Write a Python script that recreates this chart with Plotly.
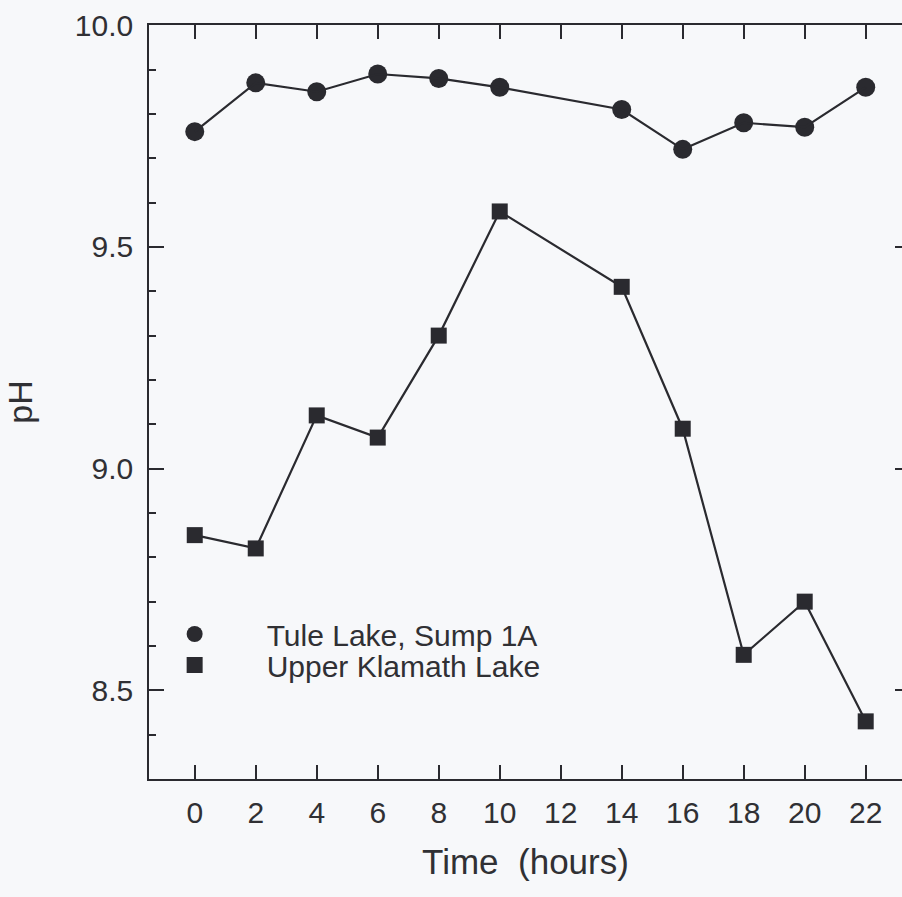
import plotly.graph_objects as go

# Sampling times (hours)
hours = [0, 2, 4, 6, 8, 10, 14, 16, 18, 20, 22]

# pH readings at each site
tule_ph = [9.76, 9.87, 9.85, 9.89, 9.88, 9.86, 9.81, 9.72, 9.78, 9.77, 9.86]
klamath_ph = [8.85, 8.82, 9.12, 9.07, 9.30, 9.58, 9.41, 9.09, 8.58, 8.70, 8.43]

series_names = ["Tule Lake, Sump 1A", "Upper Klamath Lake"]

x_ticks = list(range(0, 23, 2))
y_ticks = [8.5, 9.0, 9.5, 10.0]

INK = "#2a2a2f"
TEXT = "#303034"
PAPER = "#f7f8fa"
FONT = "Liberation Sans, Arial, sans-serif"

fig = go.Figure()

# connecting lines (kept out of the legend)
fig.add_trace(go.Scatter(x=hours, y=tule_ph, mode="lines", showlegend=False,
                         line=dict(color=INK, width=2.2), yaxis="y2", hoverinfo="skip"))
fig.add_trace(go.Scatter(x=hours, y=klamath_ph, mode="lines", showlegend=False,
                         line=dict(color=INK, width=2.2), hoverinfo="skip"))

# symbols, one legend box per series
fig.add_trace(go.Scatter(x=hours, y=tule_ph, mode="markers", name=series_names[0],
                         marker=dict(symbol="circle", size=19, color=INK), legend="legend"))
fig.add_trace(go.Scatter(x=hours, y=klamath_ph, mode="markers", name=series_names[1],
                         marker=dict(symbol="square", size=16, color=INK), legend="legend2"))

y_range = [8.3, 10.0005]

legend_style = dict(
    xanchor="left", yanchor="middle", bgcolor="rgba(0,0,0,0)",
    font=dict(size=30, color=TEXT, family=FONT), itemsizing="trace", itemwidth=134,
)

fig.update_layout(
    width=902, height=897,
    margin=dict(l=149, r=0, t=25, b=118),
    paper_bgcolor=PAPER, plot_bgcolor=PAPER,
    font=dict(family=FONT, color=TEXT, size=30),
    xaxis=dict(
        range=[-1.5, 23.19], tickvals=x_ticks, ticks="inside", ticklen=14, tickwidth=1.5,
        tickcolor=INK, showline=True, linecolor=INK, linewidth=1.5, mirror="ticks",
        showgrid=False, zeroline=False, tickfont=dict(size=30), ticklabelstandoff=6,
        title=dict(text="Time  (hours)", font=dict(size=35), standoff=22),
    ),
    yaxis=dict(
        range=y_range, tickvals=y_ticks, tickformat=".1f", ticks="inside", ticklen=15,
        tickwidth=1.5, tickcolor=INK, showline=True, linecolor=INK, linewidth=1.5,
        showgrid=False, zeroline=False, tickfont=dict(size=30), ticklabelstandoff=8,
        minor=dict(dtick=0.1, tick0=8.3, ticks="inside", ticklen=7, tickwidth=1.5,
                   tickcolor=INK, showgrid=False),
        title=dict(text="pH", font=dict(size=34), standoff=32),
    ),
    yaxis2=dict(
        range=y_range, overlaying="y", side="right", tickvals=y_ticks, ticks="inside",
        ticklen=7, tickwidth=1.5, tickcolor=INK, showticklabels=False, showline=False,
        showgrid=False, zeroline=False,
    ),
    legend=dict(x=-0.035, y=0.1923, **legend_style),
    legend2=dict(x=-0.035, y=0.1512, **legend_style),
    showlegend=True,
)

fig.write_html("out.html")
